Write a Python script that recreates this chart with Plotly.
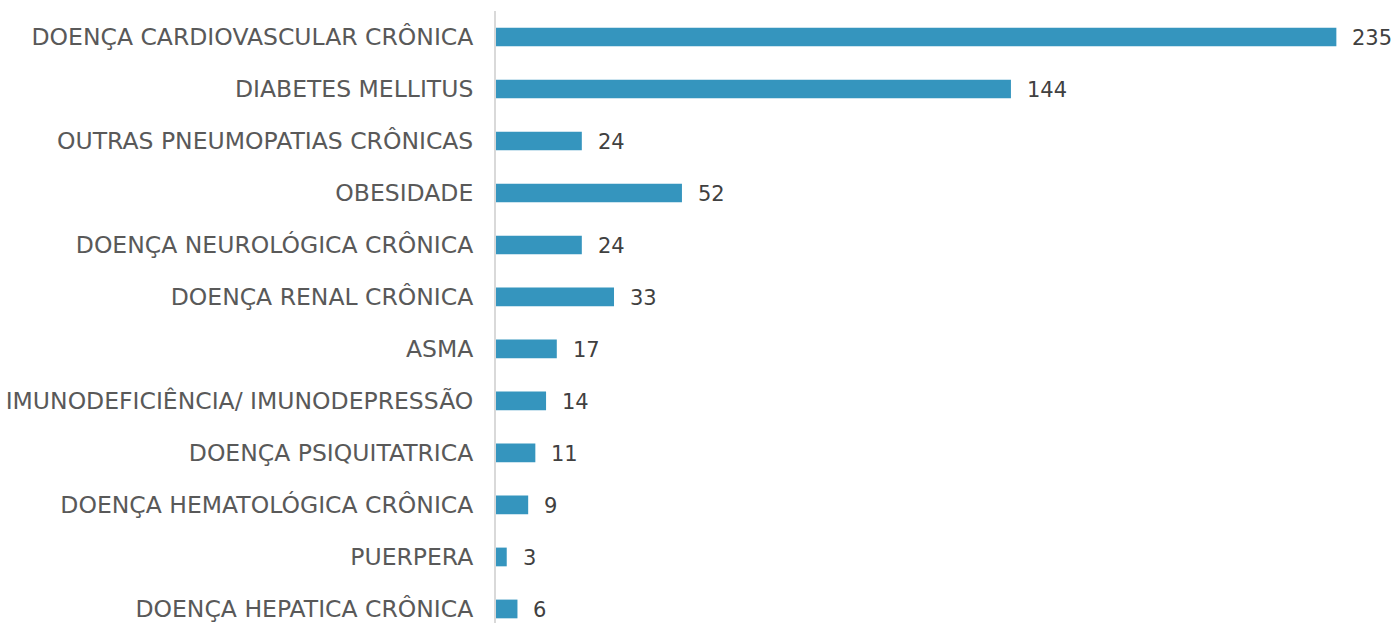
import plotly.graph_objects as go

categories = [
    "DOENÇA CARDIOVASCULAR CRÔNICA",
    "DIABETES MELLITUS",
    "OUTRAS PNEUMOPATIAS CRÔNICAS",
    "OBESIDADE",
    "DOENÇA NEUROLÓGICA CRÔNICA",
    "DOENÇA RENAL CRÔNICA",
    "ASMA",
    "IMUNODEFICIÊNCIA/ IMUNODEPRESSÃO",
    "DOENÇA PSIQUITATRICA",
    "DOENÇA HEMATOLÓGICA CRÔNICA",
    "PUERPERA",
    "DOENÇA HEPATICA CRÔNICA",
]
values = [235, 144, 24, 52, 24, 33, 17, 14, 11, 9, 3, 6]

FONT = "DejaVu Sans"

fig = go.Figure()
fig.add_trace(go.Bar(
    y=categories, x=values, orientation="h",
    marker=dict(color="#3595BE", line=dict(width=0)),
    width=0.36,
    hoverinfo="skip",
))

for c, v in zip(categories, values):
    fig.add_annotation(x=v, y=c, text=str(v), showarrow=False,
                       xanchor="left", yanchor="middle", xshift=14, yshift=-1,
                       font=dict(family=FONT, size=21, color="#404040"))

fig.update_layout(
    width=1396, height=623,
    margin=dict(l=496, r=6, t=11, b=0),
    paper_bgcolor="white", plot_bgcolor="white",
    showlegend=False,
    xaxis=dict(range=[0, 250], visible=False, showgrid=False, zeroline=False),
    yaxis=dict(
        range=[11.27, -0.5], type="category",
        showline=True, linecolor="#d9d9d9", linewidth=2,
        showgrid=False, zeroline=False,
        ticks="", ticklabelstandoff=16,
        tickfont=dict(family=FONT, size=23.5, color="#595959"),
    ),
)

fig.write_html(
    "out.html",
    config={"displayModeBar": False},
    post_script="document.body.style.margin='0';document.body.style.overflow='hidden';",
)
